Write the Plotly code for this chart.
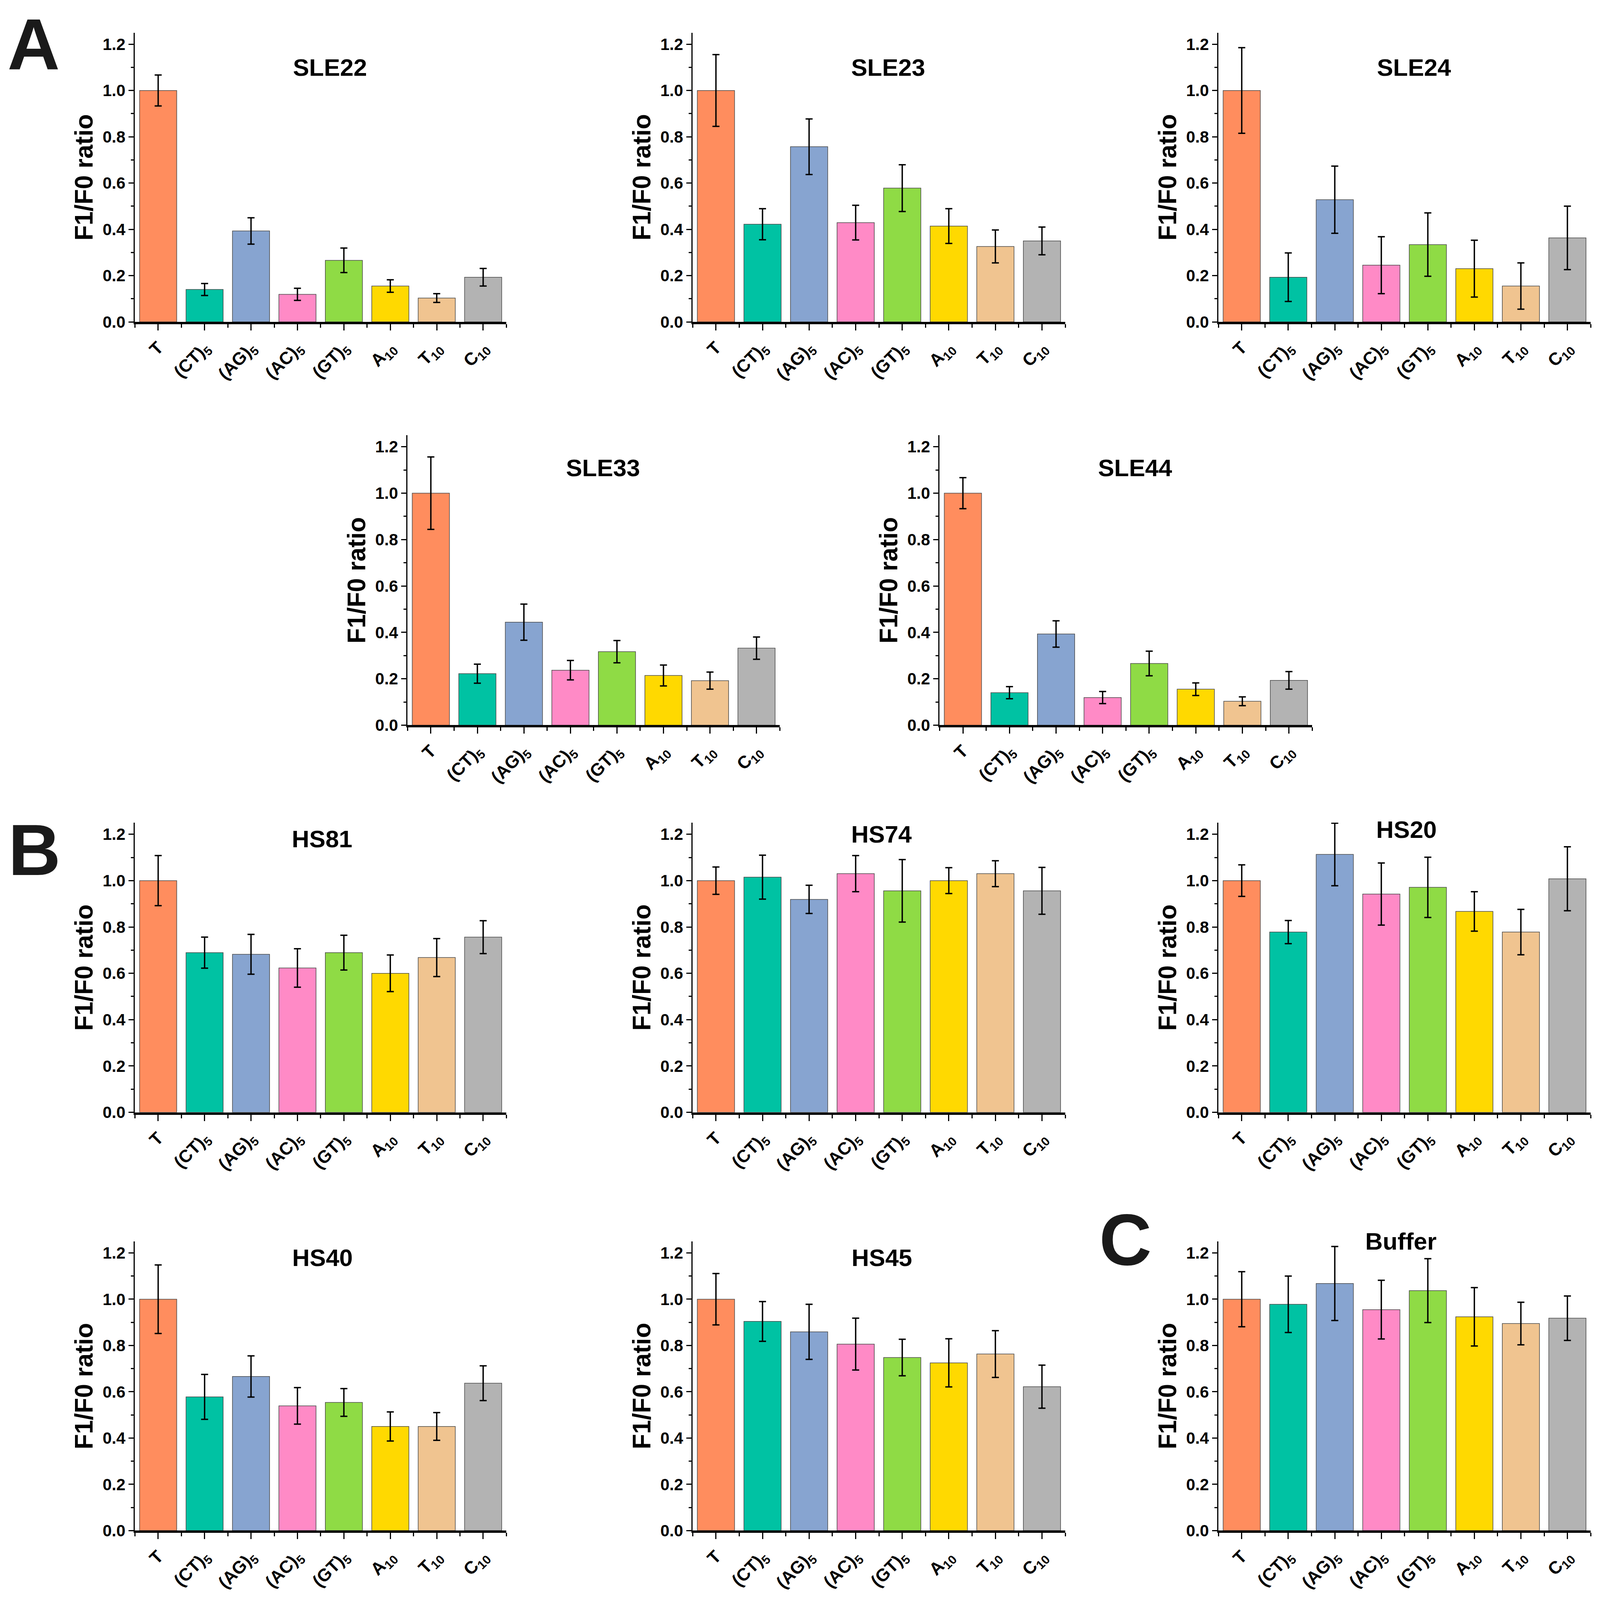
import plotly.graph_objects as go

# ---------------- data ----------------
categories = ["T", "(CT)<sub>5</sub>", "(AG)<sub>5</sub>", "(AC)<sub>5</sub>",
              "(GT)<sub>5</sub>", "A<sub>10</sub>", "T<sub>10</sub>", "C<sub>10</sub>"]
bar_colors = ["#FF8D5E", "#00C2A3", "#87A4D0", "#FF8AC6",
              "#8FDB45", "#FFD900", "#F0C490", "#B3B3B3"]

panel_names = ["SLE22", "SLE23", "SLE24", "SLE33", "SLE44",
               "HS81", "HS74", "HS20", "HS40", "HS45", "Buffer"]

sle22_val = [1.00, 0.140, 0.393, 0.119, 0.266, 0.155, 0.103, 0.193]
sle22_err = [0.067, 0.026, 0.057, 0.026, 0.053, 0.027, 0.019, 0.038]
sle23_val = [1.00, 0.422, 0.757, 0.429, 0.578, 0.414, 0.326, 0.350]
sle23_err = [0.155, 0.067, 0.120, 0.075, 0.101, 0.075, 0.071, 0.060]
sle24_val = [1.00, 0.193, 0.528, 0.245, 0.334, 0.230, 0.155, 0.363]
sle24_err = [0.185, 0.105, 0.145, 0.123, 0.137, 0.123, 0.100, 0.137]
sle33_val = [1.00, 0.222, 0.444, 0.237, 0.317, 0.214, 0.192, 0.332]
sle33_err = [0.156, 0.041, 0.078, 0.042, 0.048, 0.045, 0.037, 0.048]
sle44_val = [1.00, 0.140, 0.393, 0.119, 0.266, 0.155, 0.103, 0.193]
sle44_err = [0.067, 0.026, 0.057, 0.026, 0.053, 0.027, 0.019, 0.038]
hs81_val = [1.00, 0.689, 0.682, 0.623, 0.689, 0.600, 0.668, 0.756]
hs81_err = [0.108, 0.067, 0.086, 0.083, 0.075, 0.079, 0.082, 0.071]
hs74_val = [1.00, 1.015, 0.919, 1.030, 0.956, 1.00, 1.030, 0.956]
hs74_err = [0.059, 0.095, 0.061, 0.078, 0.135, 0.056, 0.056, 0.101]
hs20_val = [1.00, 0.778, 1.113, 0.942, 0.971, 0.867, 0.778, 1.008]
hs20_err = [0.068, 0.050, 0.135, 0.134, 0.130, 0.085, 0.098, 0.138]
hs40_val = [1.00, 0.578, 0.666, 0.539, 0.554, 0.450, 0.450, 0.637]
hs40_err = [0.148, 0.097, 0.089, 0.079, 0.060, 0.063, 0.060, 0.075]
hs45_val = [1.00, 0.904, 0.859, 0.806, 0.748, 0.725, 0.763, 0.622]
hs45_err = [0.111, 0.086, 0.119, 0.112, 0.079, 0.104, 0.101, 0.093]
buffer_val = [1.00, 0.978, 1.068, 0.955, 1.037, 0.924, 0.895, 0.918]
buffer_err = [0.119, 0.122, 0.160, 0.127, 0.138, 0.126, 0.092, 0.096]

y_ticks = [0.0, 0.2, 0.4, 0.6, 0.8, 1.0, 1.2]

panel_values = [sle22_val, sle23_val, sle24_val, sle33_val, sle44_val,
                hs81_val, hs74_val, hs20_val, hs40_val, hs45_val, buffer_val]
panel_errors = [sle22_err, sle23_err, sle24_err, sle33_err, sle44_err,
                hs81_err, hs74_err, hs20_err, hs40_err, hs45_err, buffer_err]

# ---------------- layout geometry (reference pixels) ----------------
W, H = 4114, 4240
boxes = [
    (347, 1302, 87, 858), (1781, 2739, 87, 858), (3133, 4090, 87, 858),
    (1048, 2005, 1160, 1933), (2416, 3374, 1160, 1933),
    (347, 1302, 2193, 2965), (1781, 2739, 2193, 2965), (3133, 4090, 2193, 2965),
    (347, 1302, 3309, 4080), (1781, 2739, 3309, 4080), (3133, 4090, 3309, 4080),
]
title_pos = [(3.7, 1.10), (3.7, 1.10), (3.7, 1.10), (3.7, 1.11), (3.7, 1.11),
             (3.53, 1.18), (3.56, 1.20), (3.54, 1.22), (3.54, 1.18), (3.56, 1.18),
             (3.42, 1.25)]

NARROW = "Liberation Sans Narrow, Arial Narrow, Liberation Sans, Arial"
SANS = "Liberation Sans, Arial, Helvetica"

fig = go.Figure()
layout = dict(autosize=True, margin=dict(l=0, r=0, t=0, b=0, pad=0),
              paper_bgcolor="white", plot_bgcolor="white", showlegend=False,
              bargap=0.2)
annotations = []

xpos = list(range(len(categories)))
for i, (name, vals, errs, box) in enumerate(zip(panel_names, panel_values, panel_errors, boxes)):
    n = i + 1
    sx = "" if n == 1 else str(n)
    fig.add_trace(go.Bar(
        x=xpos, y=vals, width=0.8,
        marker=dict(color=bar_colors, line=dict(color="#4a4a4a", width=1.5)),
        error_y=dict(type="data", array=errs, visible=True, color="black",
                     thickness=3.5, width=9),
        xaxis="x" + sx, yaxis="y" + sx, hoverinfo="skip"))
    xl, xr, yt, yb = box
    layout["xaxis" + sx] = dict(
        domain=[xl / W, xr / W], anchor="y" + sx, range=[-0.5, 7.5],
        showline=True, linecolor="black", linewidth=6, showgrid=False, zeroline=False,
        ticks="outside", ticklen=16, tickwidth=3, tickcolor="black",
        tickvals=xpos, ticktext=categories, tickangle=-45,
        tickfont=dict(family=NARROW, size=45, color="black", weight="bold"),
        minor=dict(tickvals=[k - 0.5 for k in range(9)], ticks="outside",
                   ticklen=9, tickwidth=3, tickcolor="black"),
        fixedrange=True)
    layout["yaxis" + sx] = dict(
        domain=[1 - yb / H, 1 - yt / H], anchor="x" + sx, range=[0, 1.25],
        showline=True, linecolor="black", linewidth=3, showgrid=False, zeroline=False,
        ticks="outside", ticklen=13, tickwidth=3, tickcolor="black",
        tickvals=y_ticks, ticktext=[f"{v:.1f}" for v in y_ticks],
        tickfont=dict(family=NARROW, size=42, color="black", weight="bold"),
        minor=dict(dtick=0.1, tick0=0, ticks="outside", ticklen=7,
                   tickwidth=3, tickcolor="black"),
        fixedrange=True)
    tx, ty = title_pos[i]
    annotations.append(dict(
        text="<b>" + name + "</b>", xref="x" + sx, yref="y" + sx, x=tx, y=ty,
        xanchor="center", yanchor="middle", showarrow=False,
        font=dict(family=SANS, size=62, color="black")))
    annotations.append(dict(
        text="<b>F1/F0 ratio</b>", xref="x" + sx + " domain", yref="y" + sx + " domain",
        x=-131 / (xr - xl), y=0.5, xanchor="center", yanchor="middle",
        textangle=-90, showarrow=False,
        font=dict(family=SANS, size=64, color="black")))

# panel letters
annotations.append(dict(
    text="<b>A</b>", xref="paper", yref="paper", x=86 / W, y=0.998,
    xanchor="center", yanchor="top", showarrow=False,
    font=dict(family=SANS, size=186, color="#1a1a1a")))
for letter, (cx, cy) in zip(["B", "C"], [(88, 2265), (2894, 3304)]):
    annotations.append(dict(
        text="<b>" + letter + "</b>", xref="paper", yref="paper",
        x=cx / W, y=1 - cy / H, xanchor="center", yanchor="middle",
        showarrow=False, font=dict(family=SANS, size=186, color="#1a1a1a")))

layout["annotations"] = annotations
fig.update_layout(**layout)

# fill the browser viewport exactly, without page margins or scrollbars
post = """
document.documentElement.style.margin='0';
document.documentElement.style.overflow='hidden';
document.body.style.margin='0';
document.body.style.overflow='hidden';
Plotly.Plots.resize(document.getElementById('{plot_id}'));
"""
fig.write_html("out.html", default_width="100vw", default_height="100vh",
               config={"responsive": True, "displayModeBar": False},
               post_script=post)
